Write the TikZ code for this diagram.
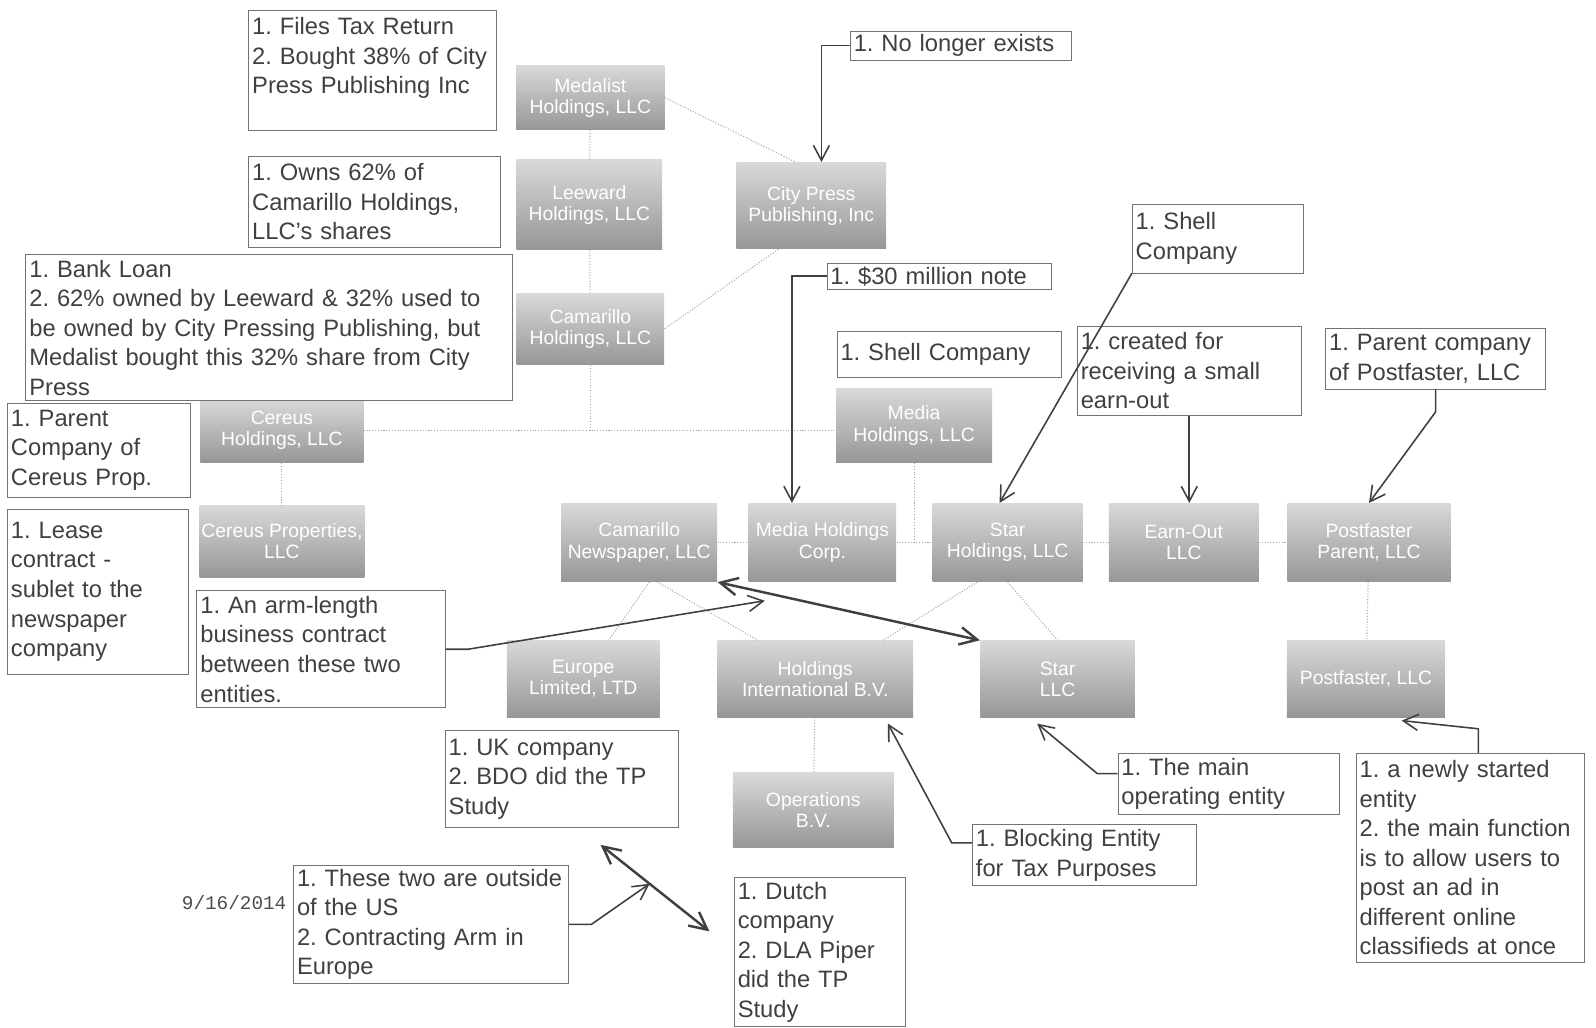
\documentclass[tikz,border=0pt]{standalone}
\usepackage{fontspec}
\setmainfont{Liberation Sans}
\newfontfamily\datefont{Liberation Mono}
\usetikzlibrary{arrows.meta,calc}
\frenchspacing
\hyphenpenalty=10000
\exhyphenpenalty=10000

\tikzset{
  entity/.style={top color=gray!30, bottom color=gray!82, text=white, align=center,
    minimum width=3cm, minimum height=1.55cm, inner sep=1pt, font=\fontsize{11}{12}\selectfont},
  note/.style={draw=black!55, fill=white, anchor=north west, align=left, inner sep=2pt,
    text=black!75, font=\fontsize{13.5}{16.8}\selectfont},
  link/.style={gray!70, densely dotted, semithick},
  pointer/.style={black!75, line width=0.9pt, -{Straight Barb[length=3mm,width=3.2mm]}},
  contract/.style={black!75, line width=1.4pt,
    {Straight Barb[length=3.5mm,width=3.5mm]}-{Straight Barb[length=3.5mm,width=3.5mm]}}
}

\begin{document}
\begin{tikzpicture}[x=0.02036cm, y=-0.02036cm]
  \useasboundingbox (0,0) rectangle (1568,1009);

  % entities
  \node[entity, minimum width=2.97cm, minimum height=1.28cm] (medalist) at (580,96) {Medalist\\Holdings, LLC};
  \node[entity, minimum width=2.91cm, minimum height=1.79cm] (leeward) at (579,201) {Leeward\\Holdings, LLC};
  \node[entity, minimum width=2.95cm, minimum height=1.43cm] (camarillo) at (580,323) {Camarillo\\Holdings, LLC};
  \node[entity, minimum width=2.99cm, minimum height=1.73cm] (citypress) at (797,202) {City Press\\Publishing, Inc};
  \node[entity, minimum width=3.26cm, minimum height=1.28cm] (cereush) at (277,423) {Cereus\\Holdings, LLC};
  \node[entity, minimum width=3.12cm, minimum height=1.49cm] (mediah) at (898,418) {Media\\Holdings, LLC};
  \node[entity, minimum width=3.24cm, minimum height=1.43cm] (cereusp) at (277,532) {Cereus Properties,\\LLC};
  \node[entity, minimum width=3.12cm, minimum height=1.57cm] (news) at (628,533) {Camarillo\\Newspaper, LLC};
  \node[entity, minimum width=2.95cm, minimum height=1.57cm] (corp) at (808,533) {Media Holdings\\Corp.};
  \node[entity, minimum height=1.57cm] (holdco) at (990,533) {Star\\Holdings, LLC};
  \node[entity, minimum height=1.57cm] (earnllc) at (1163,533) {Earn-Out\\LLC};
  \node[entity, minimum width=3.26cm, minimum height=1.57cm] (parentllc) at (1345,533) {Postfaster\\Parent, LLC};
  \node[entity, minimum width=3.05cm, minimum height=1.53cm] (ltd) at (573,667) {Europe\\Limited, LTD};
  \node[entity, minimum width=3.91cm, minimum height=1.53cm] (intl) at (801,667) {Holdings\\International B.V.};
  \node[entity, minimum width=3.09cm, minimum height=1.53cm] (opco) at (1039,667) {Star\\LLC};
  \node[entity, minimum width=3.16cm, minimum height=1.53cm] (postfaster) at (1342,667) {Postfaster, LLC};
  \node[entity, minimum width=3.22cm, minimum height=1.49cm] (dutch) at (799,796) {Operations\\B.V.};

  % ownership lines
  \draw[link] (medalist) -- (leeward);
  \draw[link] (leeward) -- (camarillo);
  \draw[link] (medalist.east) -- (citypress.110);
  \draw[link] (camarillo.east) -- (citypress.233);
  \draw[link] (camarillo.south) -- (camarillo.south |- cereush.east);
  \draw[link] (cereush.east) -- (cereush.east -| mediah.west);
  \draw[link] (cereush) -- (cereusp);
  \draw[link] (mediah.south) -- (mediah.south |- corp.east);
  \draw[link] (news) -- (corp);
  \draw[link] (corp) -- (holdco);
  \draw[link] (holdco) -- (earnllc);
  \draw[link] (earnllc) -- (parentllc);
  \draw[link] (parentllc) -- (postfaster);
  \draw[link] ($(news.south)+(10,0)$) -- ($(ltd.north)+(25,0)$);
  \draw[link] ($(news.south)+(18,0)$) -- ($(intl.north west)+(40,0)$);
  \draw[link] ($(holdco.south)+(-30,0)$) -- ($(intl.north east)+(-30,0)$);
  \draw[link] (holdco.south) -- (opco.north);
  \draw[link] (intl) -- (dutch);

  % notes
  \node[note, text width=4.81cm, minimum height=2.4cm] (taxnote) at (244,10)
    {1. Files Tax Return\\2. Bought 38\% of City\\Press Publishing Inc\\\mbox{}};
  \node[note, text width=4.28cm] (gone) at (835,30) {1. No longer exists};
  \node[note, text width=4.89cm, minimum height=1.83cm] (ownsnote) at (244,153)
    {1. Owns 62\% of\\Camarillo Holdings,\\LLC's shares};
  \node[note, text width=9.59cm, minimum height=2.91cm] (loannote) at (25,250)
    {1. Bank Loan\\2. 62\% owned by Leeward \& 32\% used to\\be owned by City Pressing Publishing, but\\Medalist bought this 32\% share from City\\Press};
  \node[note, text width=3.52cm, minimum height=1.87cm] (parentnote) at (7,396)
    {1. Parent\\Company of\\Cereus Prop.};
  \node[note, text width=3.48cm, minimum height=3.3cm] (leasenote) at (7,500)
    {1. Lease\\contract -\\sublet to the\\newspaper\\company};
  \node[note, text width=4.83cm, minimum height=2.34cm] (armnote) at (193,580)
    {1. An arm-length\\business contract\\between these two\\entities.};
  \node[note, text width=4.34cm] (note30) at (812,258) {1. \$30 million note};
  \node[note, text width=4.34cm, minimum height=0.92cm] (shellmid) at (822,325) {1. Shell Company};
  \node[note, text width=3.28cm, minimum height=1.38cm] (shell) at (1112,200) {1. Shell\\Company};
  \node[note, text width=4.34cm, minimum height=1.79cm] (earnout) at (1058,320)
    {1. created for\\receiving a small\\earn-out};
  \node[note, text width=4.26cm, minimum height=1.22cm] (parentpf) at (1302,322)
    {1. Parent company\\of Postfaster, LLC};
  \node[note, text width=4.52cm, minimum height=1.95cm] (uknote) at (437,717)
    {1. UK company\\2. BDO did the TP\\Study};
  \node[note, text width=5.36cm, minimum height=2.28cm] (outside) at (288,850)
    {1. These two are outside\\of the US\\2. Contracting Arm in\\Europe};
  \node[note, text width=3.28cm, minimum height=2.97cm] (dutchnote) at (721,862)
    {1. Dutch\\company\\2. DLA Piper\\did the TP\\Study};
  \node[note, text width=4.28cm, minimum height=1.22cm] (mainop) at (1098,740)
    {1. The main\\operating entity};
  \node[note, text width=4.34cm, minimum height=1.22cm] (blocking) at (955,810)
    {1. Blocking Entity\\for Tax Purposes};
  \node[note, text width=4.42cm, minimum height=4.17cm] (newco) at (1332,740)
    {1. a newly started\\entity\\2. the main function\\is to allow users to\\post an ad in\\different online\\classifieds at once};
  \node[font=\datefont\fontsize{11}{13}\selectfont, text=black!70] (date) at (230,887) {9/16/2014};

  % contracts
  \draw[contract] (news.south east) -- (opco.north west);
  \coordinate (uk) at (590,830);
  \coordinate (nl) at (697,915);
  \draw[contract] (uk) -- (nl);
  \coordinate (armmid) at ($(news.south east)!0.18!(opco.north west)+(0,8)$);
  \coordinate (tpmid) at ($(uk)!0.45!(nl)$);

  % pointers
  \draw[pointer] (gone.west) -| ($(citypress.north)+(10,0)$);
  \draw[pointer] (note30.west) -| ($(corp.north)+(-30,0)$);
  \draw[pointer] (shell.south west) -- ($(holdco.north)+(-8,0)$);
  \draw[pointer] (earnout.south) -- (earnout.south |- earnllc.north);
  \draw[pointer] (parentpf.south) -- ++(0,22) -- (parentllc.north);
  \draw[pointer] (armnote.east) -- ++(22,0) -- (armmid);
  \draw[pointer] (outside.east) -- ++(22,0) -- (tpmid);
  \draw[pointer] ($(mainop.north west)+(0,20)$) -- ++(-20,0) -- ($(opco.south)+(-20,6)$);
  \draw[pointer] ($(blocking.north west)+(0,18)$) -- ++(-20,0) -- ($(intl.south east)+(-25,6)$);
  \draw[pointer] ($(newco.north)+(8,0)$) -- ++(0,-24) -- ($(postfaster.south)+(35,3)$);
\end{tikzpicture}
\end{document}
